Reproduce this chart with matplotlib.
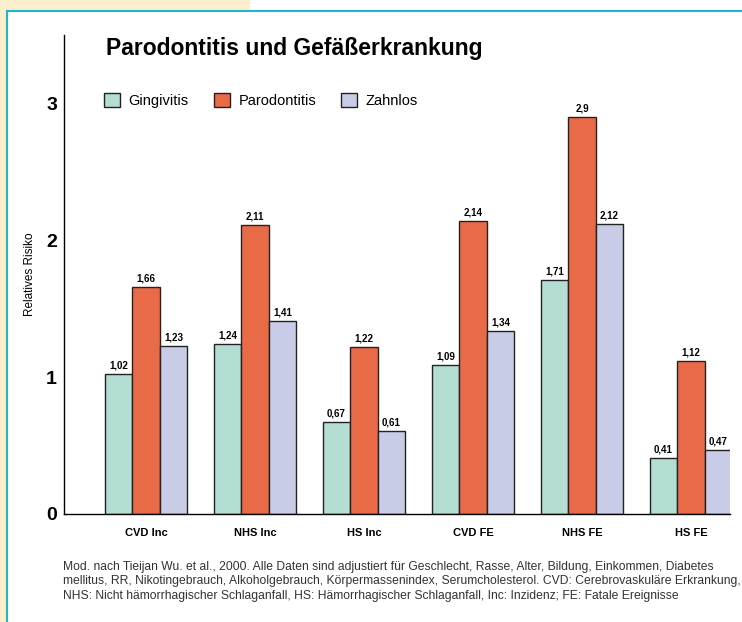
import numpy as np
import matplotlib.pyplot as plt
from matplotlib.patches import Rectangle

plt.rcParams['font.family'] = ['Liberation Sans Narrow', 'Liberation Sans', 'DejaVu Sans']

categories = ['CVD Inc', 'NHS Inc', 'HS Inc', 'CVD FE', 'NHS FE', 'HS FE']
series = ['Gingivitis', 'Parodontitis', 'Zahnlos']
gingivitis = [1.02, 1.24, 0.67, 1.09, 1.71, 0.41]
parodontitis = [1.66, 2.11, 1.22, 2.14, 2.90, 1.12]
zahnlos = [1.23, 1.41, 0.61, 1.34, 2.12, 0.47]
colors = ['#b4ddd3', '#e96a47', '#c9cce6']

W, H = 742, 622
fig = plt.figure(figsize=(W / 100, H / 100), dpi=100)

# background strips and cyan frame
fig.patches.append(Rectangle((0, 0), 7 / W, 1, transform=fig.transFigure,
                             facecolor='#fcefcb', edgecolor='none', zorder=-10))
fig.patches.append(Rectangle((0, 1 - 11 / H), 250 / W, 11 / H, transform=fig.transFigure,
                             facecolor='#fcefcb', edgecolor='none', zorder=-10))
fig.patches.append(Rectangle((7 / W, -0.01), 1, 1 - 11 / H + 0.01, transform=fig.transFigure,
                             facecolor='white', edgecolor='#22b4cf', linewidth=1.5, zorder=-9))

ax = fig.add_axes([64 / W, (H - 514) / H, 666 / W, 479 / H])
ax.set_facecolor('none')

x = np.arange(len(categories))
width = 0.252
data = [gingivitis, parodontitis, zahnlos]
handles = []
for i, (vals, col, name) in enumerate(zip(data, colors, series)):
    pos = x + (i - 1) * width
    b = ax.bar(pos, vals, width, color=col, edgecolor='#222222', linewidth=1.0,
               label=name, zorder=2)
    handles.append(b)
    for px, v in zip(pos, vals):
        ax.text(px, v + 0.025, ('%g' % v).replace('.', ','), ha='center', va='bottom',
                fontsize=7, fontweight='bold')

ax.set_xlim(-0.752, 5.358)
ax.set_ylim(0, 3.5)
ax.set_yticks([0, 1, 2, 3])
ax.set_yticklabels(['0', '1', '2', '3'], fontsize=14, fontweight='bold')
ax.set_xticks(x)
ax.set_xticklabels(categories, fontsize=8, fontweight='bold')
ax.tick_params(axis='y', length=0, pad=5)
ax.tick_params(axis='x', length=0, pad=10)
for s in ['top', 'right']:
    ax.spines[s].set_visible(False)
ax.spines['left'].set_linewidth(1.0)
ax.spines['bottom'].set_linewidth(1.0)

ax.set_ylabel('Relatives Risiko', fontsize=8.5)
ax.yaxis.set_label_coords(-28 / 666, 0.5)

fig.text(106 / W, 1 - 48 / H, 'Parodontitis und Gefäßerkrankung', fontsize=16.5,
         fontweight='bold', va='center', ha='left')

ax.legend(handles=handles, loc='upper left', bbox_to_anchor=(34 / 666, 1 - 52 / 479),
          ncol=3, frameon=False, fontsize=10.5, handlelength=1.1, handleheight=1.1,
          handletextpad=0.6, columnspacing=1.7, borderaxespad=0)

note = ('Mod. nach Tieijan Wu. et al., 2000. Alle Daten sind adjustiert für Geschlecht, Rasse, Alter, Bildung, Einkommen, Diabetes\n'
        'mellitus, RR, Nikotingebrauch, Alkoholgebrauch, Körpermassenindex, Serumcholesterol. CVD: Cerebrovaskuläre Erkrankung,\n'
        'NHS: Nicht hämorrhagischer Schlaganfall, HS: Hämorrhagischer Schlaganfall, Inc: Inzidenz; FE: Fatale Ereignisse')
fig.text(63 / W, 1 - 561 / H, note, fontsize=8.7, color='#333333', va='top', ha='left',
         linespacing=1.25)

fig.savefig('out.png', dpi=100)
